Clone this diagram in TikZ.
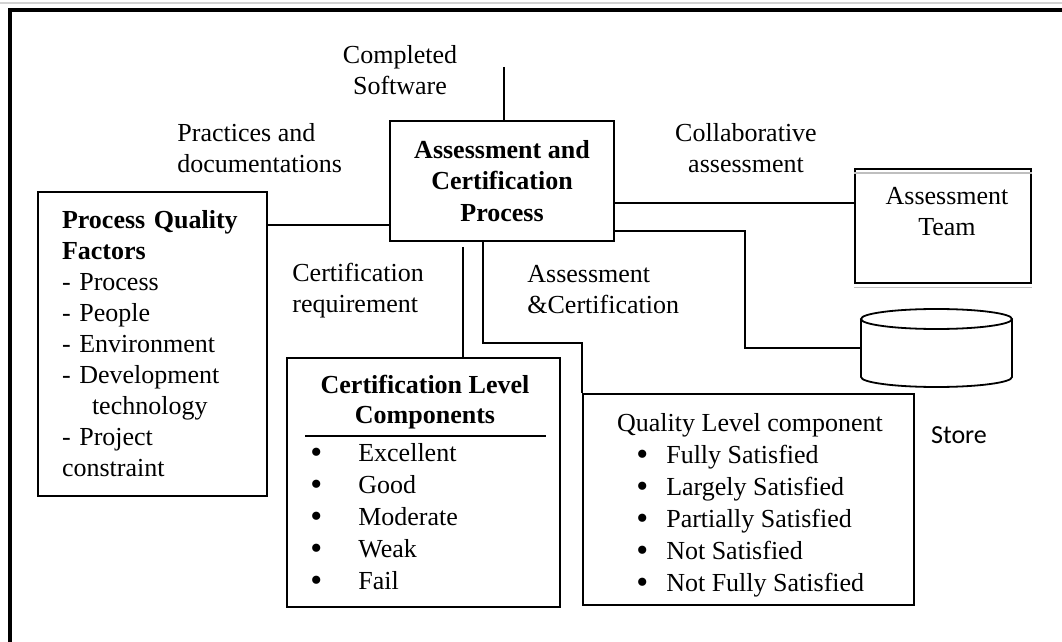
\documentclass[tikz,border=0pt]{standalone}
\usepackage{fontspec}
\setmainfont{Liberation Serif}
\newfontfamily\storefont{Carlito}

% list bullet, a bit heavier than the text one
\newcommand{\blt}{\raisebox{-0.8pt}{\fontsize{17}{16}\selectfont •}}

\tikzset{
  box/.style={draw, line width=0.9pt, inner sep=0pt},
  wire/.style={line width=0.9pt},
  lbl/.style={inner sep=0pt, align=left},
}

\begin{document}
\begin{tikzpicture}[x=0.5pt, y=-0.5pt, font=\fontsize{13}{15.5}\selectfont]
\useasboundingbox (0,0) rectangle (1062,642);

% page frame
\draw[gray!35, line width=1pt] (0,3) -- (1062,3);
\draw[line width=2.4pt] (10,642) -- (10,10) -- (1062,10);

% main process
\node[box, minimum width=112pt, minimum height=60pt, align=center,
  font=\fontsize{13}{15.75}\selectfont\bfseries] (acp) at (502,181)
  {Assessment and\\Certification\\Process};

% process quality factors
\node[box, inner xsep=12pt, text width=90.5pt, minimum height=152pt, align=left] (pqf) at (152.5,344)
  {\textbf{Process Quality}\\\textbf{Factors}\\- Process\\- People\\- Environment\\- Development\\
   \hspace*{15pt}technology\\- Project\\constraint};

% assessment team
\node[box, minimum width=88pt, minimum height=57pt] (team) at (943,226) {};
\node[lbl, align=center] (teamT) at (947,212) {Assessment\\Team};
\draw[gray!50, line width=0.6pt] ([yshift=-2.5pt]team.north west) -- ([yshift=-2.5pt]team.north east);
\draw[gray!50, line width=0.6pt] ([yshift=-2pt]team.south west) -- ([yshift=-2pt]team.south east);

% store
\draw[wire] (861,319) -- (861,377) arc[start angle=180, end angle=360, x radius=37.75pt, y radius=5pt] -- (1012,319);
\draw[wire] (936.5,319) ellipse [x radius=37.75pt, y radius=5pt];
\coordinate (store) at (861,348);
\node[inner sep=0pt, font=\storefont\fontsize{13}{15.5}\selectfont] (storeT) at (959,435) {Store};

% certification levels
\node[box, minimum width=136.5pt, minimum height=124.5pt] (cert) at (423.5,482.5) {};
\node[lbl, align=center, font=\fontsize{13}{15}\selectfont\bfseries] (certT) at (425,402)
  {Certification Level\\Components};
\draw[wire] (305,436) -- (546,436);
\node[lbl, anchor=north west] (certL) at (310,439)
  {\fontsize{13}{16}\selectfont\begin{tabular}{@{}l@{\hspace{18pt}}l@{}}
   \blt & Excellent\\ \blt & Good\\ \blt & Moderate\\ \blt & Weak\\ \blt & Fail
   \end{tabular}};

% quality levels
\node[box, minimum width=165.5pt, minimum height=105.5pt] (qlc) at (748.5,499.5) {};
\node[lbl] (qlcT) at (750,425) {Quality Level component};
\node[lbl, anchor=north west] (qlcL) at (636,441)
  {\fontsize{13}{16}\selectfont\begin{tabular}{@{}l@{\hspace{9pt}}l@{}}
   \blt & Fully Satisfied\\ \blt & Largely Satisfied\\ \blt & Partially Satisfied\\
   \blt & Not Satisfied\\ \blt & Not Fully Satisfied
   \end{tabular}};

% labels
\node[lbl, align=center] (cs) at (400,70) {Completed\\Software};
\node[lbl, anchor=west] (pd) at (177,148) {Practices and\\documentations};
\node[lbl, align=center] (ca) at (746,148) {Collaborative\\assessment};
\node[lbl, anchor=west] (cr) at (292,291) {Certification\\requirement};
\node[lbl, anchor=west] (ac) at (527,290) {Assessment\\\&Certification};

% links
\coordinate (sw) at (504,67);
\draw[wire] (sw) -- (sw |- acp.north);
\draw[wire] (pqf.east |- 0,225) -- (acp.west |- 0,225);
\draw[wire] (acp.east |- 0,203) -- (team.west |- 0,203);
\draw[wire] (acp.east |- 0,231) -| (745,348) -- (store);
\coordinate (crq) at (463,247);
\draw[wire] (crq) -- (crq |- cert.north);
\draw[wire] (acp.south -| 483,0) |- (qlc.west |- 0,343) -- (qlc.north west);

\end{tikzpicture}
\end{document}
